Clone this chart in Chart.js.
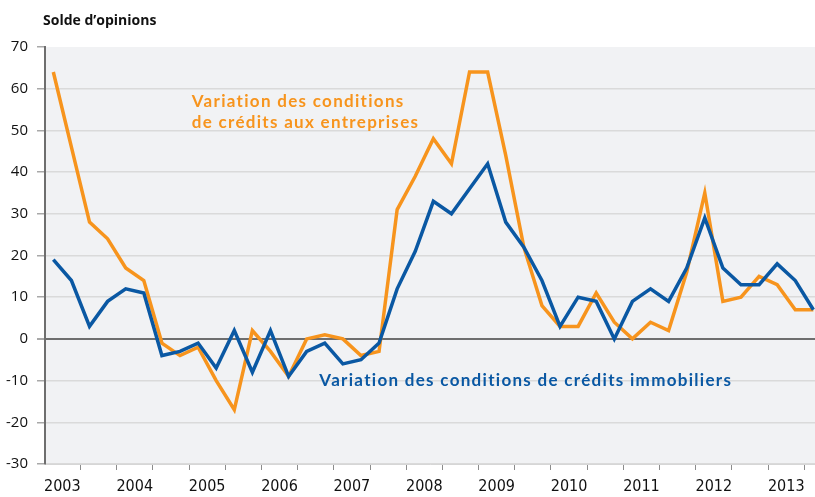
<!DOCTYPE html>
<html>
<head>
<meta charset="utf-8">
<script src="https://cdn.jsdelivr.net/npm/chart.js@4"></script>
<style>
    html, body { margin: 0; padding: 0; background: #fff; }
    #wrap { width: 815px; height: 497px; }
</style>
</head>
<body>
<div id="wrap"><canvas id="chart"></canvas></div>
<script>
// trimestres de 2003 T1 à 2013 T3
const years = ['2003', '2004', '2005', '2006', '2007', '2008', '2009', '2010', '2011', '2012', '2013'];

const entreprises = [64, 46, 28, 24, 17, 14, -1, -4, -2, -10, -17, 2, -3, -9, 0, 1, 0, -4, -3, 31, 39, 48,
    42, 64, 64, 44, 22, 8, 3, 3, 11, 4, 0, 4, 2, 16, 35, 9, 10, 15, 13, 7, 7];

const immobiliers = [19, 14, 3, 9, 12, 11, -4, -3, -1, -7, 2, -8, 2, -9, -3, -1, -6, -5, -1, 12, 21, 33,
    30, 36, 42, 28, 22, 14, 3, 10, 9, 0, 9, 12, 9, 17, 29, 17, 13, 13, 18, 14, 7];

const yMin = -30, yMax = 70, yStep = 10;

const ORANGE = '#f7941d';
const BLUE = '#0a58a3';

const toPoints = arr => arr.map((v, i) => ({x: i, y: v}));

// fond gris de la zone de tracé
const plotBackground = {
    id: 'plotBackground',
    beforeDraw(chart) {
        const {ctx, chartArea: a} = chart;
        ctx.save();
        ctx.fillStyle = '#f1f2f4';
        ctx.fillRect(a.left, a.top, a.right - a.left, a.bottom - a.top);
        ctx.restore();
    }
};

// titre de l'axe et étiquettes des séries
const textLabels = {
    id: 'textLabels',
    afterDraw(chart) {
        const {ctx, scales: {x, y}} = chart;
        ctx.save();
        ctx.textAlign = 'left';
        ctx.textBaseline = 'alphabetic';

        ctx.fillStyle = '#111';
        ctx.font = 'bold 14px "Open Sans"';
        ctx.fillText('Solde d\u2019opinions', 43, 25);

        ctx.font = 'bold 17px Lato';
        ctx.letterSpacing = '1.3px';
        ctx.fillStyle = ORANGE;
        const ox = x.getPixelForValue(7.65);
        const oy = y.getPixelForValue(55.7);
        ctx.fillText('Variation des conditions', ox, oy);
        ctx.fillText('de crédits aux entreprises', ox, oy + 21.6);

        ctx.fillStyle = BLUE;
        ctx.fillText('Variation des conditions de crédits immobiliers',
            x.getPixelForValue(14.7), y.getPixelForValue(-11.2));
        ctx.restore();
    }
};

new Chart(document.getElementById('chart'), {
    type: 'line',
    data: {
        datasets: [
            {
                label: 'Variation des conditions de crédits immobiliers',
                data: toPoints(immobiliers),
                borderColor: BLUE,
                borderWidth: 3.5,
                pointRadius: 0,
                tension: 0
            },
            {
                label: 'Variation des conditions de crédits aux entreprises',
                data: toPoints(entreprises),
                borderColor: ORANGE,
                borderWidth: 3.5,
                pointRadius: 0,
                tension: 0
            }
        ]
    },
    options: {
        responsive: true,
        maintainAspectRatio: false,
        animation: false,
        layout: {padding: {top: 47, right: 0, bottom: 0, left: 0}},
        plugins: {
            legend: {display: false},
            tooltip: {enabled: false}
        },
        scales: {
            x: {
                type: 'linear',
                min: -0.46,
                max: 42.09,
                afterBuildTicks(scale) {
                    const ticks = [];
                    for (let i = 0; i < 42; i++) ticks.push({value: i + 0.5});
                    scale.ticks = ticks;
                },
                afterFit(scale) { scale.height = 33; },
                ticks: {
                    autoSkip: false,
                    maxRotation: 0,
                    padding: 7,
                    color: '#111',
                    font: {family: '"DejaVu Sans Condensed"', size: 16},
                    callback: (value, index) => index % 4 === 0 ? years[index / 4] : ''
                },
                grid: {
                    drawOnChartArea: false,
                    tickLength: 6,
                    tickWidth: 1,
                    tickColor: ctx => ctx.index % 2 === 1 ? '#8c8c8c' : 'rgba(0,0,0,0)'
                },
                border: {color: '#d6d6d6', width: 1}
            },
            y: {
                min: yMin,
                max: yMax,
                afterFit(scale) { scale.width = 45; },
                ticks: {
                    stepSize: yStep,
                    padding: 9,
                    color: '#111',
                    font: {family: '"Open Sans"', size: 15}
                },
                grid: {
                    color: ctx => ctx.tick.value === 0 ? '#6e6e6e' : (ctx.tick.value === yMax ? 'rgba(0,0,0,0)' : '#dadada'),
                    lineWidth: ctx => ctx.tick.value === 0 ? 2 : 1.5,
                    tickLength: 8,
                    tickColor: '#a8a8a8'
                },
                border: {color: '#6e6e6e', width: 2}
            }
        }
    },
    plugins: [plotBackground, textLabels]
});
</script>
</body>
</html>
